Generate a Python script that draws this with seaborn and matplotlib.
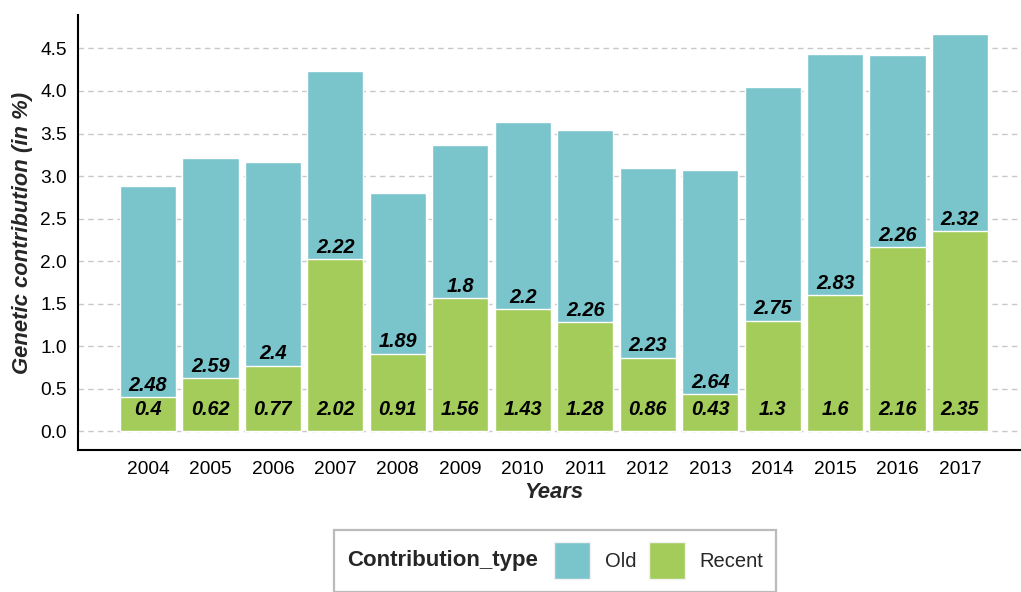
import numpy as np
import pandas as pd
import matplotlib
matplotlib.use("Agg")
import matplotlib.pyplot as plt
import seaborn as sns
from matplotlib.patches import Patch
from matplotlib.offsetbox import HPacker

# Data
years = ["2004", "2005", "2006", "2007", "2008", "2009", "2010",
         "2011", "2012", "2013", "2014", "2015", "2016", "2017"]
recent = [0.4, 0.62, 0.77, 2.02, 0.91, 1.56, 1.43, 1.28, 0.86, 0.43, 1.3, 1.6, 2.16, 2.35]
old = [2.48, 2.59, 2.4, 2.22, 1.89, 1.8, 2.2, 2.26, 2.23, 2.64, 2.75, 2.83, 2.26, 2.32]
y_ticks = [0.0, 0.5, 1.0, 1.5, 2.0, 2.5, 3.0, 3.5, 4.0, 4.5]

teal = "#7AC4CC"
green = "#A3CC5B"

df = pd.DataFrame({"Years": years, "Recent": recent, "Old": old})
df["Total"] = df["Recent"] + df["Old"]

sns.set_style("white")
plt.rcParams["font.family"] = ["Liberation Sans", "DejaVu Sans"]

fig = plt.figure(figsize=(10.21, 5.92), dpi=100)
W, H = 1021, 592
ax = fig.add_axes([78 / W, 1 - 450 / H, (1030 - 78) / W, (450 - 15) / H])

# stacked bars: total (Old on top) then Recent over it
sns.barplot(data=df, x="Years", y="Total", color=teal, width=0.9,
            saturation=1, ax=ax, zorder=2)
sns.barplot(data=df, x="Years", y="Recent", color=green, width=0.9,
            saturation=1, ax=ax, zorder=3)

# value labels
for i, (r, o) in enumerate(zip(recent, old)):
    ax.text(i, 0.25, f"{r:g}", ha="center", va="center", fontsize=14.3,
            fontweight="bold", fontstyle="italic", color="black", zorder=5)
    ax.annotate(f"{o:g}", xy=(i, r), xytext=(0, 8.6), textcoords="offset points",
                ha="center", va="center", fontsize=14.3, fontweight="bold",
                fontstyle="italic", color="black", zorder=5)

ax.set_xlim(-1.12, 14.12)
ax.set_ylim(-0.223, 4.894)
ax.set_yticks(y_ticks)
ax.set_yticklabels([f"{v:.1f}" for v in y_ticks])

ax.yaxis.grid(True, linestyle=(0, (4, 3)), color="#C8C8C8", linewidth=1)
ax.xaxis.grid(False)
ax.set_axisbelow(True)

for s in ["top", "right"]:
    ax.spines[s].set_visible(False)
for s in ["left", "bottom"]:
    ax.spines[s].set_color("black")
    ax.spines[s].set_linewidth(1.5)

ax.tick_params(axis="both", direction="out", length=5, width=1.3, color="#333333",
               labelsize=13.8, labelcolor="black", pad=3)

ax.set_xlabel("Years", fontsize=15.8, fontweight="bold", fontstyle="italic", labelpad=3)
ax.set_ylabel("Genetic contribution (in %)", fontsize=15.8, fontweight="bold",
              fontstyle="italic", labelpad=5)

# legend at the bottom, title on the left
handles = [Patch(facecolor=teal, edgecolor="#F2F2F2"), Patch(facecolor=green, edgecolor="#F2F2F2")]
leg = fig.legend(handles, ["Old", "Recent"], ncol=2, title="Contribution_type",
                 loc="upper center", bbox_to_anchor=(555 / W, 1 - 530 / H),
                 borderaxespad=0, fontsize=14.5, frameon=True, fancybox=False,
                 handlelength=1.79, handleheight=2.45, handletextpad=0.7,
                 columnspacing=0.65, borderpad=0.62,
                 title_fontproperties={"weight": "bold", "size": 16,
                                       "family": ["Liberation Sans", "DejaVu Sans"]})
leg.get_frame().set_edgecolor("#AAAAAA")
leg.get_frame().set_linewidth(1.6)
hp = HPacker(children=[leg._legend_title_box, leg._legend_handle_box],
             align="center", pad=0, sep=12)
leg._legend_box._children = [hp]

fig.savefig("out.png", dpi=100)
